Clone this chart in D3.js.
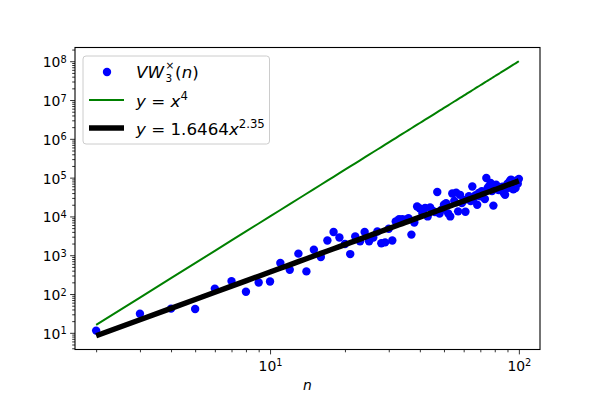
<!DOCTYPE html>
<meta charset="UTF-8">
<style>
    body { margin: 0; background: #fff; }
    text { font-family: "DejaVu Sans", sans-serif; fill: #000; }
</style>
<body>
<div id="chart"></div>
<script src="https://d3js.org/d3.v7.min.js"></script>
<script>

// n values (x) and measured VW values (y)
var ns = [2, 3, 4, 5, 6, 7, 8, 9, 10, 11, 12, 13, 14, 15, 16, 17, 18, 19, 20,
    21, 22, 23, 24, 25, 26, 27, 28, 29, 30, 31, 32, 33, 34, 35, 36, 37, 38, 39, 40,
    41, 42, 43, 44, 45, 46, 47, 48, 49, 50, 51, 52, 53, 54, 55, 56, 57, 58, 59, 60,
    61, 62, 63, 64, 65, 66, 67, 68, 69, 70, 71, 72, 73, 74, 75, 76, 77, 78, 79, 80,
    81, 82, 83, 84, 85, 86, 87, 88, 89, 90, 91, 92, 93, 94, 95, 96, 97, 98, 99, 100];

var vw = [11.4, 31, 42, 41, 138, 215, 114, 198, 210, 631, 422, 1100, 383, 1380, 895,
    2400, 3960, 2870, 1940, 1070, 3040, 2290, 3960, 2290, 2870, 4100, 2040, 2140, 4800,
    2400, 7400, 8500, 8500, 8200, 9000, 3400, 7000, 18000, 16000, 12000, 16500, 10000,
    17000, 14000, 13000, 42700, 11800, 15000, 20000, 22000, 12000, 10000, 39000, 25000,
    41000, 13500, 36000, 22000, 26000, 13200, 28000, 33000, 25000, 59000, 30000, 35000,
    20000, 40000, 33000, 45000, 42000, 28000, 98000, 55000, 60000, 73000, 45000, 19000,
    62000, 66000, 50000, 48000, 55000, 49000, 58000, 40000, 36000, 60000, 70000, 55000,
    82000, 89000, 65000, 50000, 75000, 54000, 85000, 70000, 93000];

// parameters of the two reference curves (from the legend)
var refExp = 4;
var fitCoef = 1.6464, fitExp = 2.35;

// tick labels (powers of ten)
var xMajor = [1e1, 1e2];
var yMajor = [1e1, 1e2, 1e3, 1e4, 1e5, 1e6, 1e7, 1e8];

// set the dimensions and margins of the graph
var margin = {top: 47.5, right: 60, bottom: 50.5, left: 75},
    width = 600 - margin.left - margin.right,
    height = 400 - margin.top - margin.bottom;

var refLine = ns.map(function(n) { return {x: n, y: Math.pow(n, refExp)}; });
var fitLine = ns.map(function(n) { return {x: n, y: fitCoef * Math.pow(n, fitExp)}; });
var points = ns.map(function(n, i) { return {x: n, y: vw[i]}; });

// log domain with 5% padding like matplotlib
function padLog(ext) {
    var a = Math.log10(ext[0]), b = Math.log10(ext[1]), p = (b - a) * 0.05;
    return [Math.pow(10, a - p), Math.pow(10, b + p)];
}

var allY = vw.concat(refLine.map(function(d) { return d.y; }), fitLine.map(function(d) { return d.y; }));

var x = d3.scaleLog().domain(padLog(d3.extent(ns))).range([0, width]);
var y = d3.scaleLog().domain(padLog(d3.extent(allY))).range([height, 0]);

function minorTicks(scale) {
    var dom = scale.domain(), out = [];
    for (var e = Math.floor(Math.log10(dom[0])); e <= Math.ceil(Math.log10(dom[1])); e++) {
        for (var k = 2; k <= 9; k++) {
            var v = k * Math.pow(10, e);
            if (v >= dom[0] && v <= dom[1]) out.push(v);
        }
    }
    return out;
}

var svg = d3.select("#chart").append("svg")
    .attr("width", 600)
    .attr("height", 400)
    .append("g")
    .attr("transform", "translate(" + margin.left + "," + margin.top + ")");

function powLabel(sel) {
    sel.each(function(d) {
        var t = d3.select(this);
        t.text(null);
        t.append("tspan").text("10");
        t.append("tspan").attr("dy", "-0.45em").attr("font-size", "9.8px")
            .text(Math.round(Math.log10(d)));
    });
}

// axes: minor ticks
svg.append("g")
    .attr("transform", "translate(0," + height + ")")
    .call(d3.axisBottom(x).tickValues(minorTicks(x)).tickSize(2.8).tickFormat(""))
    .call(function(g) { g.select(".domain").remove(); });
svg.append("g")
    .call(d3.axisLeft(y).tickValues(minorTicks(y)).tickSize(2.8).tickFormat(""))
    .call(function(g) { g.select(".domain").remove(); });

// axes: major ticks with labels
var xAxis = svg.append("g")
    .attr("transform", "translate(0," + height + ")")
    .call(d3.axisBottom(x).tickValues(xMajor).tickSize(4.9).tickPadding(3.5).tickFormat(""))
    .call(function(g) { g.select(".domain").remove(); });
xAxis.selectAll(".tick text")
    .attr("font-size", "13.9px").attr("font-family", "DejaVu Sans").attr("dy", null).attr("y", 21.2)
    .call(powLabel);

var yAxis = svg.append("g")
    .call(d3.axisLeft(y).tickValues(yMajor).tickSize(4.9).tickPadding(3.5).tickFormat(""))
    .call(function(g) { g.select(".domain").remove(); });
yAxis.selectAll(".tick text")
    .attr("font-size", "13.9px").attr("font-family", "DejaVu Sans").attr("dy", null).attr("y", 5.5)
    .call(powLabel);

svg.selectAll(".tick line").attr("stroke", "#000").attr("stroke-width", 0.8);

// data points
svg.append("g").selectAll("circle")
    .data(points)
    .enter().append("circle")
    .attr("cx", function(d) { return x(d.x); })
    .attr("cy", function(d) { return y(d.y); })
    .attr("r", 4.2)
    .attr("fill", "#0000ff");

var line = d3.line()
    .x(function(d) { return x(d.x); })
    .y(function(d) { return y(d.y); });

svg.append("path")
    .datum(refLine)
    .attr("fill", "none")
    .attr("stroke", "#008000")
    .attr("stroke-width", 2)
    .attr("d", line);

svg.append("path")
    .datum(fitLine)
    .attr("fill", "none")
    .attr("stroke", "#000")
    .attr("stroke-width", 5.5)
    .attr("d", line);

// frame
svg.append("rect")
    .attr("width", width).attr("height", height)
    .attr("fill", "none").attr("stroke", "#000").attr("stroke-width", 1.1);

// x label
svg.append("text")
    .attr("x", width / 2).attr("y", height + 40)
    .attr("text-anchor", "middle")
    .attr("font-size", "13.9px").attr("font-style", "italic")
    .text("n");

// legend
var leg = svg.append("g").attr("transform", "translate(" + (83 - margin.left) + "," + (56 - margin.top) + ")");
leg.append("rect")
    .attr("width", 186.5).attr("height", 88).attr("rx", 3)
    .attr("fill", "#fff").attr("fill-opacity", 0.8)
    .attr("stroke", "#ccc").attr("stroke-width", 1);

leg.append("circle").attr("cx", 24).attr("cy", 16).attr("r", 4.2).attr("fill", "#0000ff");
leg.append("line").attr("x1", 6).attr("x2", 41).attr("y1", 44).attr("y2", 44)
    .attr("stroke", "#008000").attr("stroke-width", 2);
leg.append("line").attr("x1", 6).attr("x2", 41).attr("y1", 72).attr("y2", 72)
    .attr("stroke", "#000").attr("stroke-width", 5.5);

var fs = 16.7;
// VW with stacked sub/superscript, then (n)
var t1 = leg.append("text").attr("x", 53).attr("y", 21.5).attr("font-size", fs + "px");
t1.append("tspan").attr("font-style", "italic").text("VW");
var vwLen = t1.node().getComputedTextLength();
var sx = 53 + vwLen + 1.5;
leg.append("text").attr("x", sx).attr("y", 12.5).attr("font-size", "10.5px").text("\u00d7");
var sub = leg.append("text").attr("x", sx).attr("y", 26).attr("font-size", "10.5px").text("3");
var px = sx + sub.node().getComputedTextLength() + 3;
var t1b = leg.append("text").attr("x", px).attr("y", 21.5).attr("font-size", fs + "px");
t1b.append("tspan").text("(");
t1b.append("tspan").attr("font-style", "italic").text("n");
t1b.append("tspan").text(")");

var t2 = leg.append("text").attr("x", 53).attr("y", 50.5).attr("font-size", fs + "px");
t2.append("tspan").attr("font-style", "italic").text("y");
t2.append("tspan").text(" = ");
t2.append("tspan").attr("font-style", "italic").text("x");
t2.append("tspan").attr("dy", -7).attr("font-size", "11.7px").text(refExp);

var t3 = leg.append("text").attr("x", 53).attr("y", 78.5).attr("font-size", fs + "px");
t3.append("tspan").attr("font-style", "italic").text("y");
t3.append("tspan").text(" = " + fitCoef);
t3.append("tspan").attr("font-style", "italic").text("x");
t3.append("tspan").attr("dy", -7).attr("font-size", "11.7px").text(fitExp);

</script>
</body>
